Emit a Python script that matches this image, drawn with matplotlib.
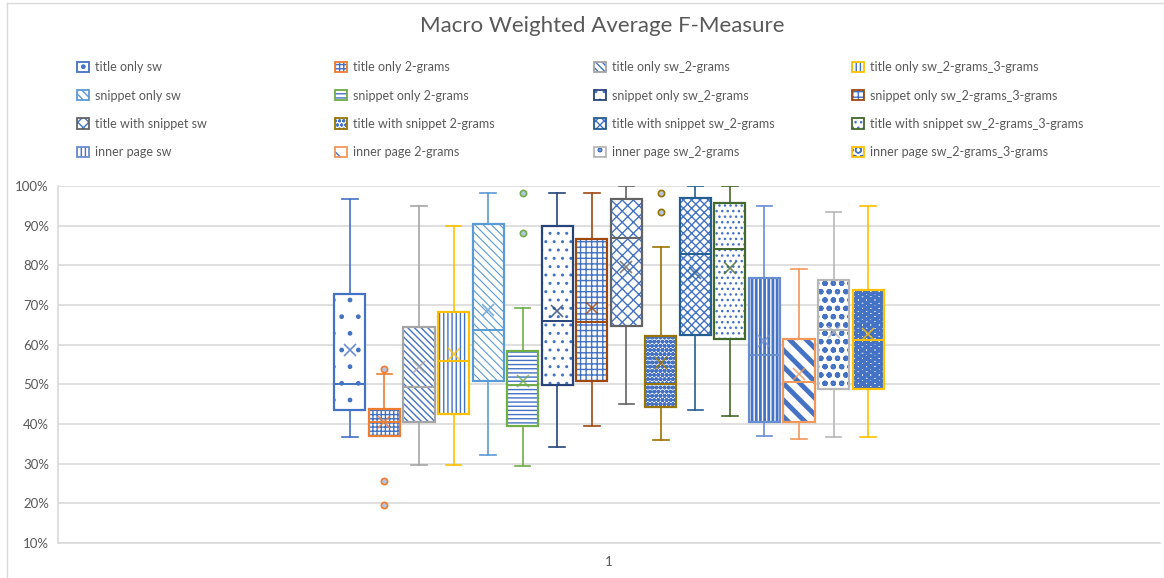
import matplotlib
matplotlib.use("Agg")
import matplotlib.pyplot as plt
from matplotlib.patches import PathPatch, Rectangle
from matplotlib.legend_handler import HandlerTuple
from matplotlib.ticker import FuncFormatter

plt.rcParams['font.family'] = ['Lato', 'DejaVu Sans']

TEXT = "#595959"
GRID = "#D9D9D9"
FILL_BLUE = "#4472C4"

labels = [
    "title only sw", "title only 2-grams", "title only sw_2-grams", "title only sw_2-grams_3-grams",
    "snippet only sw", "snippet only 2-grams", "snippet only sw_2-grams", "snippet only sw_2-grams_3-grams",
    "title with snippet sw", "title with snippet 2-grams", "title with snippet sw_2-grams",
    "title with snippet sw_2-grams_3-grams",
    "inner page sw", "inner page 2-grams", "inner page sw_2-grams", "inner page sw_2-grams_3-grams",
]

# box statistics (fractions)
whis_lo = [0.366, 0.371, 0.296, 0.296, 0.323, 0.293, 0.342, 0.396,
           0.451, 0.360, 0.436, 0.421, 0.371, 0.363, 0.366, 0.366]
q1 = [0.436, 0.371, 0.405, 0.426, 0.508, 0.395, 0.499, 0.508,
      0.647, 0.444, 0.624, 0.614, 0.405, 0.405, 0.489, 0.489]
median = [0.500, 0.405, 0.493, 0.559, 0.637, 0.499, 0.659, 0.656,
          0.868, 0.500, 0.829, 0.840, 0.575, 0.505, 0.637, 0.613]
q3 = [0.728, 0.438, 0.644, 0.683, 0.904, 0.583, 0.898, 0.867,
      0.966, 0.622, 0.970, 0.958, 0.767, 0.615, 0.762, 0.737]
whis_hi = [0.966, 0.526, 0.950, 0.898, 0.982, 0.693, 0.982, 0.982,
           1.000, 0.846, 1.000, 1.000, 0.950, 0.792, 0.934, 0.950]
mean = [0.587, 0.405, 0.543, 0.577, 0.688, 0.509, 0.685, 0.693,
        0.795, 0.555, 0.780, 0.793, 0.608, 0.526, 0.633, 0.627]
outliers = [[], [0.538, 0.256, 0.195], [], [], [], [0.982, 0.882], [], [],
            [], [0.982, 0.934], [], [], [], [], [], []]

colors = ["#4472C4", "#ED7D31", "#A5A5A5", "#FFC000", "#5B9BD5", "#70AD47", "#264478", "#9E480E",
          "#636363", "#997300", "#255E91", "#43682B", "#698ED0", "#F1975A", "#B7B7B7", "#FFC000"]
hatches = [".", "++++", "\\" * 5, "||||", "\\" * 4, "----", "..", "+++",
           "xxx", "oooo", "xxxx", "...", "||||", "\\\\", "oo", "OO"]
hatch_widths = [1.0, 1.0, 1.0, 1.0, 0.8, 1.0, 1.0, 1.0,
                1.0, 1.5, 1.0, 1.0, 2.0, 3.5, 1.5, 2.5]

fig = plt.figure(figsize=(11.64, 5.78), dpi=100)
ax = fig.add_axes([58 / 1164, 1 - 543 / 578, 1102 / 1164, 357 / 578])

stats = []
for i, name in enumerate(labels):
    stats.append(dict(label=name, whislo=whis_lo[i], q1=q1[i], med=median[i], q3=q3[i],
                      whishi=whis_hi[i], mean=mean[i], fliers=outliers[i]))

positions = list(range(1, len(stats) + 1))
res = ax.bxp(stats, positions=positions, widths=0.9, patch_artist=True,
             showmeans=True, showfliers=True, manage_ticks=False)

legend_handles = []
for i, box in enumerate(res['boxes']):
    c = colors[i]
    hatch_color = "#5B9BD5" if i == 4 else FILL_BLUE
    box.set_facecolor("white")
    box.set_edgecolor(hatch_color)
    box.set_linewidth(0)
    box.set_hatch(hatches[i])
    if hasattr(box, "set_hatch_linewidth"):
        box.set_hatch_linewidth(hatch_widths[i])
    outline = PathPatch(box.get_path(), facecolor="none", edgecolor=c, linewidth=1.6, zorder=3)
    ax.add_patch(outline)
    res['medians'][i].set(color=c, linewidth=1.4, zorder=4)
    for w in res['whiskers'][2 * i:2 * i + 2]:
        w.set(color=c, linewidth=1.2)
    for cp in res['caps'][2 * i:2 * i + 2]:
        cp.set(color=c, linewidth=1.2)
    res['means'][i].set(marker="x", markersize=9, markeredgecolor=c, markeredgewidth=1.2,
                        alpha=0.8, zorder=4)
    res['fliers'][i].set(marker="o", markersize=4.5, markerfacecolor="#B4C7E7",
                         markeredgecolor=c, markeredgewidth=1.2)

    fill = Rectangle((0, 0), 1, 1, facecolor="white", edgecolor=hatch_color,
                     linewidth=0, hatch=hatches[i])
    if hasattr(fill, "set_hatch_linewidth"):
        fill.set_hatch_linewidth(hatch_widths[i])
    edge = Rectangle((0, 0), 1, 1, facecolor="none", edgecolor=c, linewidth=1.3)
    legend_handles.append((fill, edge))

ax.set_xlim(8.5 - 15.95, 8.5 + 15.95)
ax.set_ylim(0.1, 1.0)
ax.set_yticks([i / 10 for i in range(1, 11)])
ax.yaxis.set_major_formatter(FuncFormatter(lambda v, p: f"{v * 100:.0f}%"))
ax.set_xticks([8.5])
ax.set_xticklabels(["1"])
ax.tick_params(axis="both", length=0, labelsize=9.5, colors=TEXT)
ax.tick_params(axis="x", pad=9)
ax.tick_params(axis="y", pad=6.5)
ax.grid(axis="y", color=GRID, linewidth=1.2)
ax.set_axisbelow(True)
for side in ["top", "right"]:
    ax.spines[side].set_visible(False)
for side in ["left", "bottom"]:
    ax.spines[side].set_color(GRID)
    ax.spines[side].set_linewidth(1.2)

fig.text(602 / 1164, 1 - 26 / 578, "Macro Weighted Average F-Measure", ha="center", va="center",
         fontsize=16, color=TEXT)

# legend laid out as four separate columns
col_x = [71, 329, 588, 846]
for c in range(4):
    idx = [r * 4 + c for r in range(4)]
    fig.legend([legend_handles[k] for k in idx], [labels[k] for k in idx],
               handler_map={tuple: HandlerTuple(ndivide=1, pad=0)},
               loc="upper left", bbox_to_anchor=(col_x[c] / 1164, 1 - 55 / 578),
               frameon=False, fontsize=9, labelcolor=TEXT, handlelength=0.9,
               handleheight=0.9, handletextpad=0.55, labelspacing=1.3, borderpad=0)

# chart border
fig.add_artist(plt.Line2D([7 / 1164, 7 / 1164], [0, 1 - 3 / 578], color=GRID, linewidth=1,
                          transform=fig.transFigure))
fig.add_artist(plt.Line2D([7 / 1164, 1], [1 - 3 / 578, 1 - 3 / 578], color=GRID, linewidth=1,
                          transform=fig.transFigure))

fig.savefig("out.png", dpi=100)
